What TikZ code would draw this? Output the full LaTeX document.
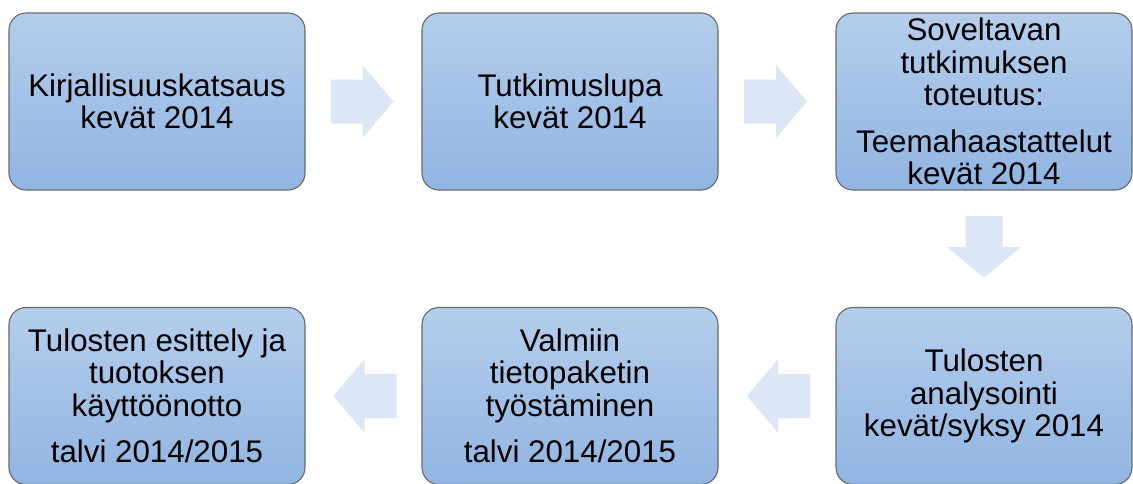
\documentclass[tikz,border=0pt]{standalone}
\usepackage{fontspec}
\setmainfont{Liberation Sans}
\usetikzlibrary{calc}
\definecolor{boxtop}{RGB}{180,205,236}
\definecolor{boxbot}{RGB}{145,181,226}
\definecolor{boxline}{RGB}{105,105,105}
\definecolor{arrfill}{RGB}{220,230,244}
\tikzset{
  stagebox/.style={draw=boxline, line width=1.1pt, rounded corners=17pt,
    top color=boxtop, bottom color=boxbot, minimum width=296pt,
    minimum height=177pt, inner sep=0pt, align=center,
    font=\fontsize{31.3}{32.5}\selectfont},
  blockarrow/.style={fill=arrfill, draw=none},
}
\begin{document}
\begin{tikzpicture}[x=1pt,y=-1pt]
\useasboundingbox (0,0) rectangle (1133,483);
\node[stagebox] (b1) at (157,101.5) {Kirjallisuuskatsaus\\kevät 2014};
\node[stagebox] (b2) at (570,101.5) {Tutkimuslupa\\kevät 2014};
\node[stagebox] (b3) at (984,101.5) {Soveltavan\\tutkimuksen\\toteutus:\\[14pt]Teemahaastattelut\\kevät 2014};
\node[stagebox] (b6) at (984,396) {Tulosten\\analysointi\\kevät/syksy 2014};
\node[stagebox] (b5) at (570,396) {Valmiin\\tietopaketin\\työstäminen\\[14pt]talvi 2014/2015};
\node[stagebox] (b4) at (157,396) {Tulosten esittely ja\\tuotoksen\\käyttöönotto\\[14pt]talvi 2014/2015};
% right arrows
\coordinate (a1) at ($(b1.east)!0.5!(b2.west)$);
\coordinate (a2) at ($(b2.east)!0.5!(b3.west)$);
\foreach \c in {a1,a2}{
  \fill[blockarrow, shift={(\c)}] (-33,-22) -- (-1,-22) -- (-1,-36.5) -- (30,0)
    -- (-1,36.5) -- (-1,22) -- (-33,22) -- cycle;
}
% down arrow
\coordinate (a3) at ($(b3.south)!0.5!(b6.north)$);
\fill[blockarrow, shift={(a3)}] (-18.5,-33) -- (18.5,-33) -- (18.5,-2) -- (37,-2)
  -- (0,29) -- (-37,-2) -- (-18.5,-2) -- cycle;
% left arrows
\coordinate (a4) at ($(b6.west)!0.5!(b5.east)$);
\coordinate (a5) at ($(b5.west)!0.5!(b4.east)$);
\foreach \c in {a4,a5}{
  \fill[blockarrow, shift={(\c)}] (33,-22) -- (1,-22) -- (1,-36.5) -- (-30,0)
    -- (1,36.5) -- (1,22) -- (33,22) -- cycle;
}
\end{tikzpicture}
\end{document}
